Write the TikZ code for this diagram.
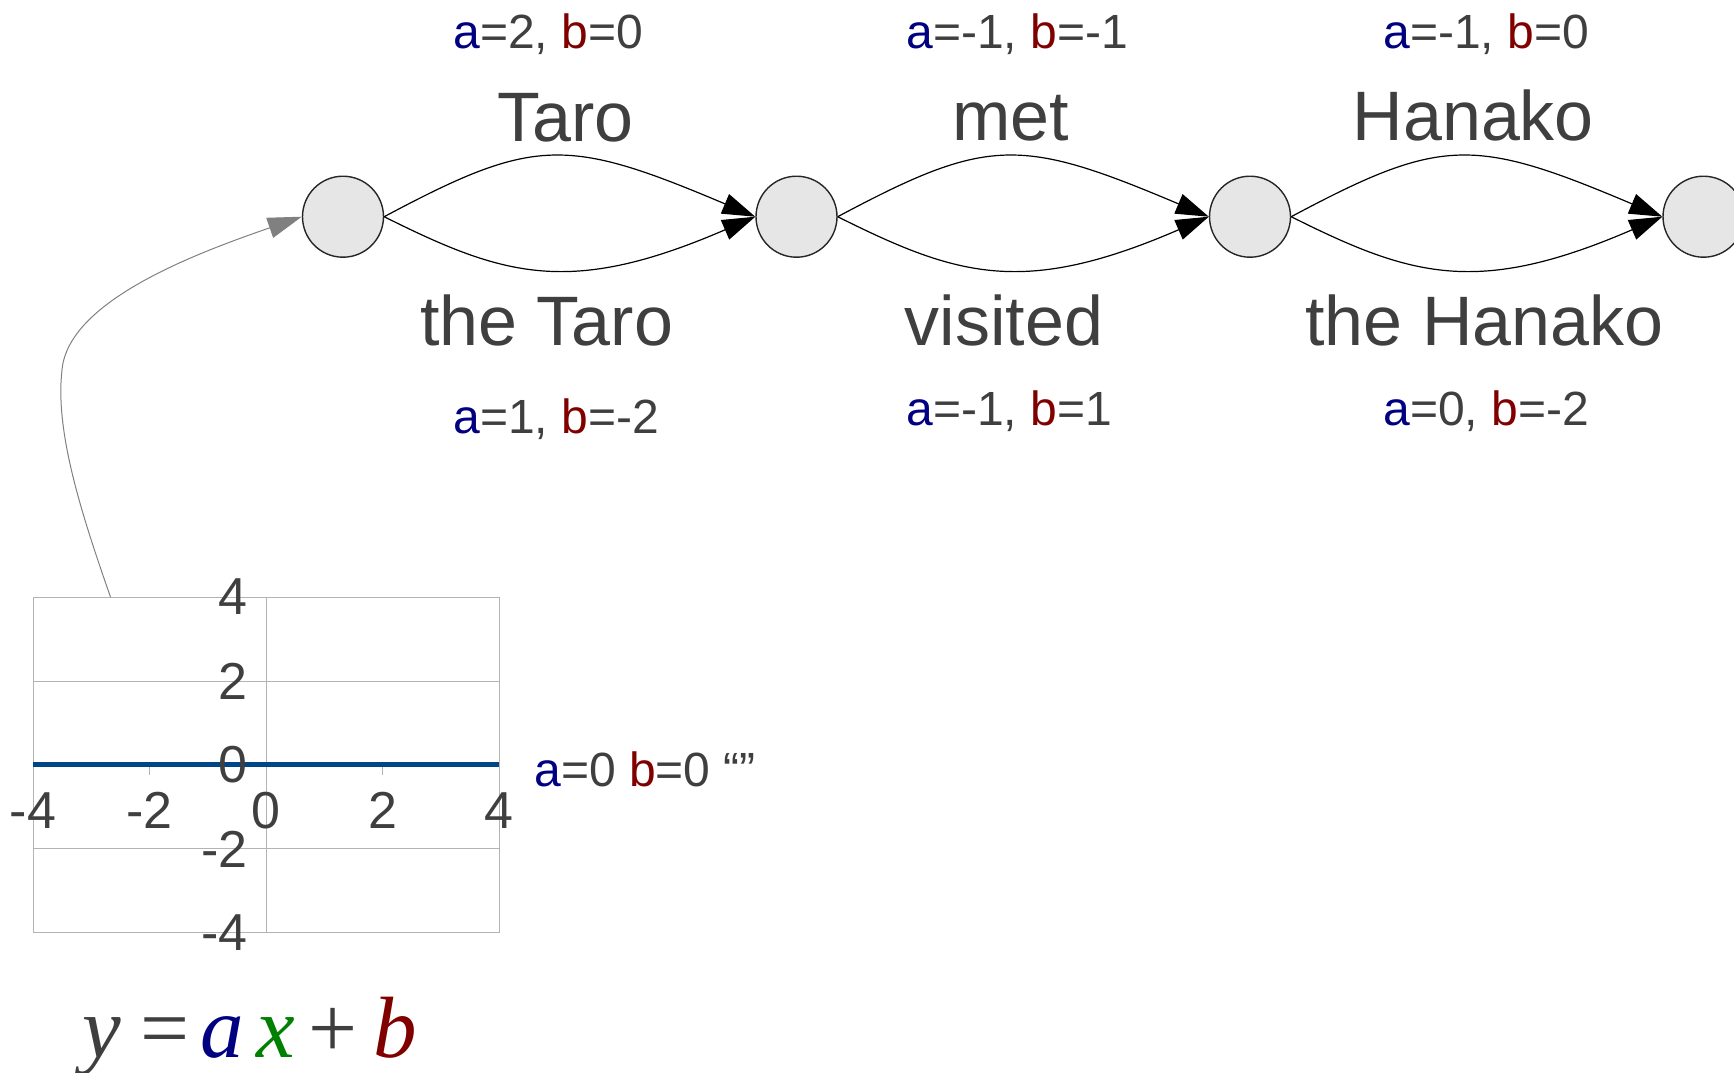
\documentclass[tikz,border=0pt]{standalone}
\usepackage{fontspec}
\setmainfont{Liberation Sans}
\newfontfamily\eqfont{Liberation Serif}
\usetikzlibrary{arrows.meta}
\definecolor{ink}{HTML}{3F3F3F}
\definecolor{avar}{HTML}{000080}
\definecolor{bvar}{HTML}{800000}
\definecolor{xvar}{HTML}{008000}
\definecolor{series}{HTML}{004586}
\definecolor{gridgray}{HTML}{B3B3B3}
\definecolor{nodefill}{HTML}{E6E6E6}
\newcommand{\av}{\textcolor{avar}{a}}
\newcommand{\bv}{\textcolor{bvar}{b}}

\begin{document}
\begin{tikzpicture}[x=0.5pt,y=-0.5pt,
  state/.style={circle,draw=black!85,line width=0.7pt,fill=nodefill,
    minimum size=40.5pt,inner sep=0pt},
  trans/.style={line width=0.6pt,-{Triangle[length=16.5pt,width=10.5pt]}},
  word/.style={font=\fontsize{35}{40}\selectfont,text=ink,anchor=base,inner sep=0pt},
  coef/.style={font=\fontsize{24}{28}\selectfont,text=ink,anchor=base west,inner sep=0pt},
  ticklabel/.style={font=\fontsize{26}{30}\selectfont,text=ink,inner sep=0pt},
  eqsym/.style={font=\eqfont\fontsize{43.5}{50}\selectfont,anchor=base,inner sep=0pt}]

\useasboundingbox (0,0) rectangle (1734,1072);
\clip (0,0) rectangle (1734,1072);

% lattice states
\node[state] (c1) at (343,216.7) {};
\node[state] (c2) at (796.5,216.7) {};
\node[state] (c3) at (1250,216.7) {};
\node[state] (c4) at (1703.5,216.7) {};

% two alternative transitions between neighbouring states
\foreach \s/\t in {c1/c2,c2/c3,c3/c4}{
  \draw[trans] (\s.east) .. controls +(150,-80) and +(-189,-80) .. (\t.west);
  \draw[trans] (\s.east) .. controls +(120,60) and +(-185,80) .. (\t.west);
}

% words on the upper arcs
\node[word] (w1) at (565.5,141.7) {Taro};
\node[word] (w2) at (1011,140) {met};
\node[word] (w3) at (1473.3,140) {Hanako};
% words on the lower arcs
\node[word] (w4) at (546.5,345) {the Taro};
\node[word] (w5) at (1004,345) {visited};
\node[word] (w6) at (1484.5,345) {the Hanako};

% coefficients of each arc
\node[coef] (k1) at (453,48.3) {\av=2, \bv=0};
\node[coef] (k2) at (906,48.3) {\av=-1, \bv=-1};
\node[coef] (k3) at (1383,48.3) {\av=-1, \bv=0};
\node[coef] (k4) at (453,433.3) {\av=1, \bv=-2};
\node[coef] (k5) at (906,425) {\av=-1, \bv=1};
\node[coef] (k6) at (1383,425) {\av=0, \bv=-2};

% chart of y = ax + b
\draw[gridgray,line width=0.5pt] (33,597) rectangle (499,932);
\foreach \yy in {681,764.5,848}
  \draw[gridgray,line width=0.5pt] (33,\yy) -- (499,\yy);
\draw[gridgray,line width=0.5pt] (266,597) -- (266,932);
\foreach \yy in {597,681,764.5,848,932}
  \draw[gridgray,line width=0.5pt] (255,\yy) -- (266,\yy);
\foreach \xx in {33,149.5,266,382.5,499}
  \draw[gridgray,line width=0.5pt] (\xx,764.5) -- (\xx,775);
\draw[series,line width=2.8pt] (33,764.5) -- (499,764.5);

\foreach \xx/\lab [count=\i] in {33/-4,149.5/-2,266/0,382.5/2,499/4}
  \node[ticklabel,anchor=base] (xl\i) at (\xx,828) {\lab};
\foreach \yy/\lab [count=\i] in {597/4,681/2,765/0,849/-2,932.5/-4}
  \node[ticklabel,anchor=east] (yl\i) at (248,\yy) {\lab};

\node[coef] (k0) at (534,786) {\av=0 \bv=0 “”};

% link from the chart to the first state
\coordinate (plotcorner) at (110.5,597);
\draw[gray,line width=0.5pt,-{Triangle[length=17pt,width=10.5pt]}]
  (plotcorner) .. controls (80,510) and (55,430) .. (62,370)
  .. controls (68,300) and (200,252) .. (c1.west);

% the model equation
\node[eqsym,text=ink] (ey) at (102,1057.7) {\itshape y};
\node[eqsym,text=ink] (eeq) at (165,1057.7) {=};
\node[eqsym,text=avar] (ea) at (222,1057.7) {\itshape a};
\node[eqsym,text=xvar] (ex) at (276,1057.7) {\itshape x};
\node[eqsym,text=ink] (eplus) at (333,1057.7) {+};
\node[eqsym,text=bvar] (eb) at (395,1057.7) {\itshape b};
\end{tikzpicture}
\end{document}
